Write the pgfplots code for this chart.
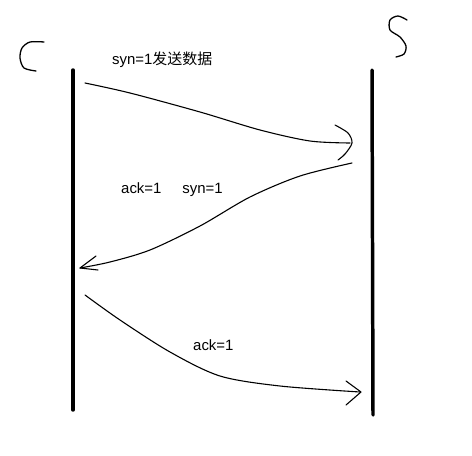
\documentclass[border=0pt]{standalone}
\usepackage{pgfplots}
\pgfplotsset{compat=1.18}
\usepackage{fontspec}
\setmainfont{Liberation Sans}
\newfontfamily\cjk{Noto Sans CJK SC}
\begin{document}
\begin{tikzpicture}
\begin{axis}[width=472bp,height=456bp,scale only axis,hide axis,
  xmin=0,xmax=472,ymin=0,ymax=456,y dir=reverse,clip=false,
  every axis plot/.append style={black,no markers,smooth,line cap=round,line join=round}]
\path (axis cs:0,0) rectangle (axis cs:472,456);
% vertical lines
\addplot[line width=3.5pt,sharp plot] coordinates {(73,70) (73,410)};
\addplot[line width=3.5pt,sharp plot] coordinates {(372,70) (373,415)};
% C and S
\addplot[line width=1.3pt] coordinates {(44,42) (30,42) (22,48) (20,58) (24,68) (36,71)};
\addplot[line width=1.3pt] coordinates {(407,20) (398,16) (390,20) (390,30) (400,37) (406,46) (404,54) (396,57)};
% curve 1
\addplot[line width=1.1pt] coordinates {(85,83) (130,93) (200,112) (260,130) (310,141) (350,143)};
\addplot[line width=1.1pt] coordinates {(335,125) (348,133) (352,143) (345,154) (338,160)};
% curve 2
\addplot[line width=1.1pt] coordinates {(352,163) (300,176) (250,197) (200,226) (150,250) (110,262) (80,268)};
\addplot[line width=1.1pt,sharp plot] coordinates {(96,256) (80,268) (98,270)};
% curve 3
\addplot[line width=1.1pt] coordinates {(85,295) (120,320) (170,352) (220,376) (280,386) (360,392)};
\addplot[line width=1.1pt,sharp plot] coordinates {(346,381) (361,392) (346,405)};
% texts
\node[anchor=west,inner sep=0pt,font=\fontsize{15}{17}\selectfont] at (axis cs:112,60) {syn=1{\cjk 发送数据}};
\node[anchor=west,inner sep=0pt,font=\fontsize{15}{17}\selectfont] at (axis cs:121,190) {ack=1\hspace{1.4em}syn=1};
\node[anchor=west,inner sep=0pt,font=\fontsize{15}{17}\selectfont] at (axis cs:193,345) {ack=1};
\end{axis}
\end{tikzpicture}
\end{document}
